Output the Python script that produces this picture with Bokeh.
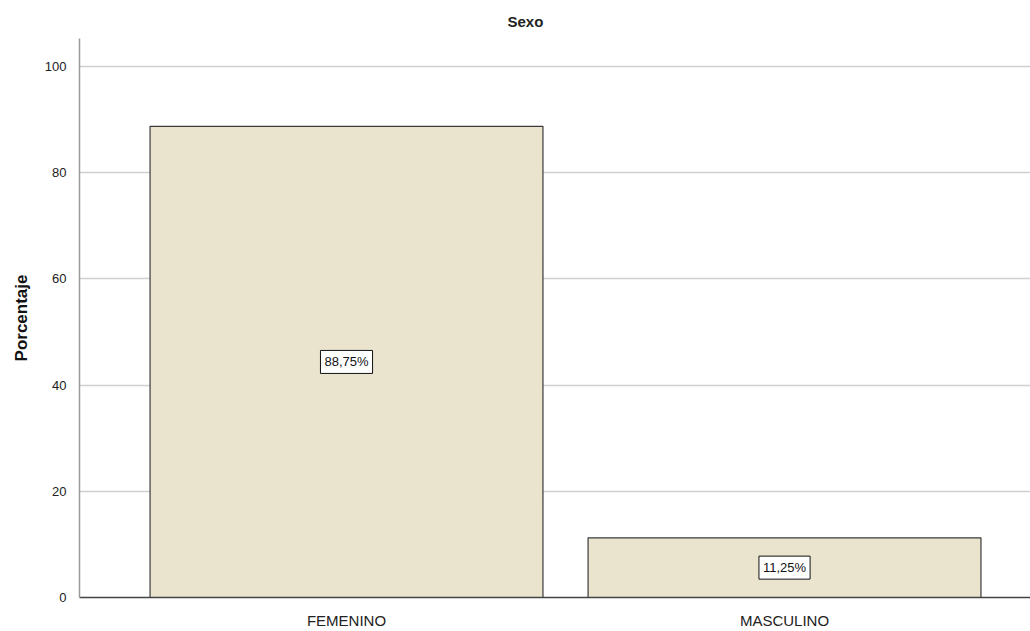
from bokeh.plotting import figure
from bokeh.models import Range1d, FixedTicker, Label, ColumnDataSource
from bokeh.embed import file_html
from bokeh.resources import INLINE

categories = ["FEMENINO", "MASCULINO"]
percentages = [88.75, 11.25]
label_texts = ["88,75%", "11,25%"]
y_ticks = [0, 20, 40, 60, 80, 100]
title_text = "Sexo"

xpos = list(range(len(categories)))
src = ColumnDataSource(dict(x=xpos, top=percentages))

FONT = "Liberation Sans"

p = figure(width=1030, height=631, output_backend="svg", toolbar_location=None,
           x_range=Range1d(-0.6096, 1.5616), y_range=Range1d(0, 105.3),
           min_border_left=79, min_border_right=0, min_border_top=38, min_border_bottom=34)

p.title.text = title_text
p.title.text_font = FONT
p.title.text_font_size = "15px"
p.title.text_font_style = "bold"
p.title.text_color = "#222222"
p.title.align = "left"
p.title.offset = 428
p.title.standoff = 18

p.vbar(x="x", top="top", width=0.897, bottom=0, source=src,
       fill_color="#EAE4CF", line_color="#3a3a3a", line_width=1.2)

for xi, v, t in zip(xpos, percentages, label_texts):
    p.add_layout(Label(x=xi, y=v / 2, text=t, text_align="center", text_baseline="middle",
                       text_font=FONT, text_font_size="13px", text_color="#111111",
                       background_fill_color="white", border_line_color="#111111",
                       border_line_width=1, padding=4))

p.outline_line_color = None

p.xaxis.ticker = FixedTicker(ticks=xpos)
p.xaxis.major_label_overrides = {i: c for i, c in zip(xpos, categories)}
p.xaxis.major_label_text_font = FONT
p.xaxis.major_label_text_font_size = "15px"
p.xaxis.major_label_text_color = "#222222"
p.xaxis.major_tick_line_color = None
p.xaxis.minor_tick_line_color = None
p.xaxis.axis_line_color = "#444444"
p.xaxis.axis_line_width = 1.5
p.xaxis.major_label_standoff = 8

p.yaxis.ticker = FixedTicker(ticks=y_ticks)
p.yaxis.axis_label = "Porcentaje"
p.yaxis.axis_label_text_font = FONT
p.yaxis.axis_label_text_font_size = "17px"
p.yaxis.axis_label_text_font_style = "bold"
p.yaxis.axis_label_text_color = "#111111"
p.yaxis.axis_label_standoff = 11
p.yaxis.major_label_text_font = FONT
p.yaxis.major_label_text_font_size = "13px"
p.yaxis.major_label_text_color = "#222222"
p.yaxis.major_tick_line_color = None
p.yaxis.minor_tick_line_color = None
p.yaxis.axis_line_color = "#9a9a9a"
p.yaxis.axis_line_width = 1.5
p.yaxis.major_label_standoff = 7

p.xgrid.grid_line_color = None
p.ygrid.grid_line_color = "#cfcfcf"
p.ygrid.grid_line_width = 1.5

p.background_fill_color = "white"
p.border_fill_color = "white"

open("out.html", "w").write(file_html(p, INLINE))
